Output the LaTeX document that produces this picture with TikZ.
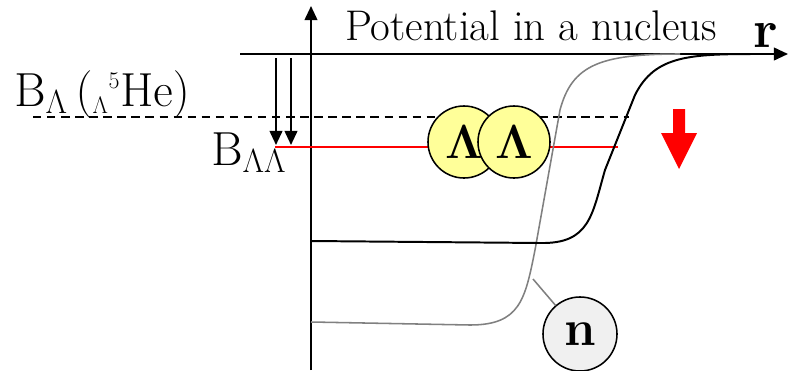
\RequirePackage{fix-cm}
\documentclass[tikz,border=0pt]{standalone}
\usetikzlibrary{arrows.meta}
\definecolor{lamyellow}{HTML}{FFFF99}
\definecolor{nucgray}{HTML}{F0F0F0}
\begin{document}
\begin{tikzpicture}[x=0.025cm, y=-0.025cm, >={Triangle[length=10pt,width=9pt]},
  lam/.style={circle, draw, line width=1.1pt, fill=lamyellow, minimum size=1.8cm, inner sep=0pt, font=\fontsize{34}{34}\selectfont},
  bigtext/.style={font=\fontsize{34}{34}\selectfont}]
\useasboundingbox (0,0) rectangle (790,370);
% axes
\coordinate (ybot) at (311,370);
\coordinate (ytop) at (311,6);
\coordinate (xleft) at (240,54);
\coordinate (xright) at (788,54);
\draw[->, line width=1.4pt] (ybot) -- (ytop);
\draw[->, line width=1.4pt] (xleft) -- (xright);
\node[anchor=base, font=\fontsize{30.5}{30}\selectfont] (title) at (531,40) {Potential in a nucleus};
\node[anchor=base, font=\fontsize{38}{38}\selectfont\bfseries] (rlab) at (766,47) {r};
% levels
\coordinate (dashL) at (33,117);
\coordinate (dashR) at (629,117);
\draw[dashed, dash pattern=on 6pt off 4pt, line width=1pt] (dashL) -- (dashR);
\coordinate (redL) at (275,147);
\coordinate (redR) at (618,147);
\draw[red, line width=1.1pt] (redL) -- (redR);
% potentials
\draw[gray, line width=1.1pt] (311,322) -- (470,325) .. controls (520,325) and (525,300) .. (535,250)
  -- (560,110) .. controls (572,65) and (600,54) .. (680,54);
\draw[line width=1.4pt] (311,241) -- (540,243) .. controls (590,244) and (592,215) .. (605,170)
  -- (635,95) .. controls (655,55) and (690,54) .. (760,54);
% binding energies
\coordinate (a1top) at (276,58);
\coordinate (a1bot) at (276,145);
\coordinate (a2top) at (291,58);
\coordinate (a2bot) at (291,145);
\draw[->, line width=1.4pt] (a1top) -- (a1bot);
\draw[->, line width=1.4pt] (a2top) -- (a2bot);
\node[bigtext, anchor=base west, inner sep=0pt] (blam) at (14,106) {$\mathrm{B}_\Lambda\,({}_{\scriptscriptstyle\Lambda}{}^{\scriptscriptstyle 5}\mathrm{He})$};
\node[bigtext, anchor=base west, inner sep=0pt] (blamlam) at (211,165) {$\mathrm{B}_{\Lambda\Lambda}$};
% hyperons and neutron
\node[lam] (lam1) at (464,142) {$\mathbf{\Lambda}$};
\node[lam] (lam2) at (514,142) {$\mathbf{\Lambda}$};
\node[circle, draw, line width=1.1pt, fill=nucgray, minimum size=1.85cm, inner sep=0pt, font=\fontsize{36}{36}\selectfont\bfseries] (neut) at (580,334) {n};
\coordinate (ntip) at (533,279);
\draw[gray, line width=1.1pt] (ntip) -- (neut);
% deeper binding
\fill[red] (673,109) -- (685,109) -- (685,133) -- (697,133) -- (679,169) -- (661,133) -- (673,133) -- cycle;
\end{tikzpicture}
\end{document}
